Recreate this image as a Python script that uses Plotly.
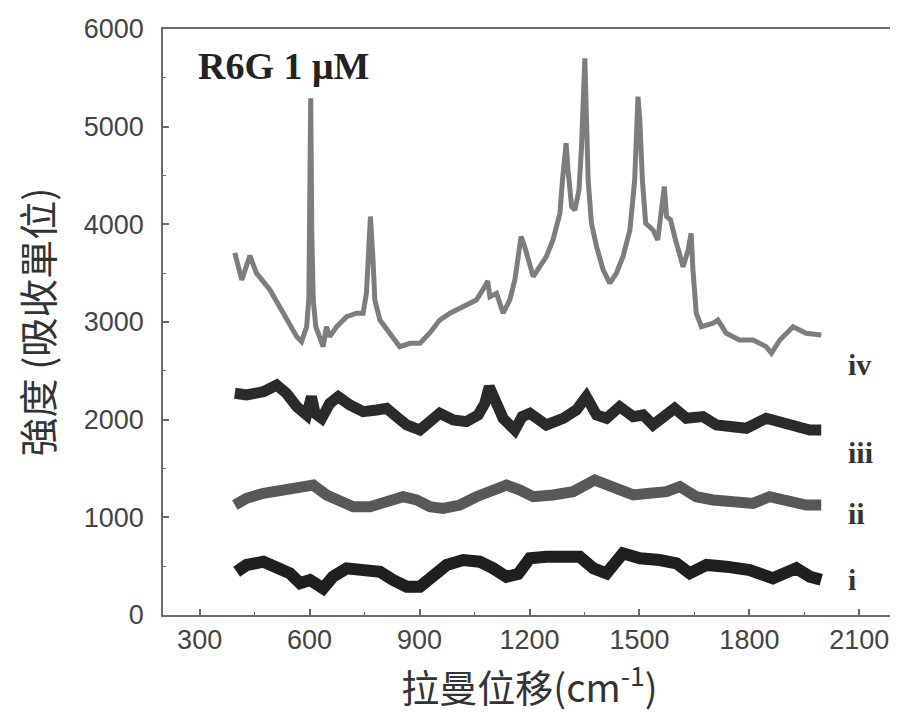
import plotly.graph_objects as go

# ---- data (Raman shift cm-1, intensity) ----
x_iv = [396, 415, 437, 455, 492, 519, 546, 565, 578, 592, 598, 603, 606, 610, 617, 623, 637, 646, 655, 674,
        701, 728, 746, 755, 760, 766, 773, 778, 792, 819, 846, 874, 901, 928, 955, 983, 1019, 1055, 1078,
        1086, 1092, 1110, 1128, 1146, 1160, 1177, 1187, 1210, 1228, 1246, 1264, 1283, 1290, 1300, 1305,
        1315, 1324, 1335, 1342, 1351, 1355, 1360, 1369, 1383, 1401, 1419, 1437, 1455, 1474, 1487, 1496,
        1501, 1508, 1517, 1537, 1550, 1560, 1568, 1574, 1585, 1596, 1619, 1633, 1641, 1646, 1655, 1669,
        1701, 1714, 1737, 1773, 1810, 1846, 1860, 1883, 1919, 1955, 1996]
y_iv = [3707, 3430, 3680, 3500, 3328, 3157, 2990, 2850, 2800, 2950, 3250, 5290, 3900, 3225, 2950, 2888, 2747,
        2952, 2850, 2952, 3055, 3090, 3090, 3294, 3635, 4080, 3635, 3225, 3020, 2888, 2747, 2782, 2782,
        2888, 3020, 3090, 3157, 3225, 3362, 3420, 3260, 3294, 3090, 3225, 3430, 3874, 3771, 3464, 3566,
        3669, 3840, 4113, 4454, 4830, 4557, 4181, 4147, 4352, 4795, 5700, 5137, 4454, 4011, 3771, 3533,
        3397, 3499, 3669, 3942, 4454, 5308, 5069, 4454, 4011, 3942, 3840, 4147, 4386, 4079, 4045, 3874,
        3566, 3737, 3908, 3533, 3090, 2952, 2987, 3020, 2884, 2816, 2816, 2747, 2680, 2816, 2952, 2884, 2867]

x_iii = [396, 428, 474, 510, 537, 565, 592, 605, 615, 633, 655, 678, 710, 746, 783, 810, 837, 865, 901, 928,
         955, 992, 1028, 1060, 1078, 1090, 1105, 1128, 1160, 1180, 1201, 1246, 1292, 1328, 1355, 1383, 1410,
         1446, 1483, 1510, 1537, 1574, 1596, 1628, 1673, 1710, 1755, 1792, 1846, 1892, 1928, 1965, 1996]
y_iii = [2270, 2253, 2287, 2355, 2270, 2133, 2048, 2235, 2065, 2014, 2167, 2235, 2150, 2082, 2099, 2116, 2031,
         1946, 1894, 1997, 2065, 1997, 1980, 2048, 2167, 2338, 2202, 2014, 1894, 2031, 2065, 1946, 2014,
         2099, 2235, 2048, 2014, 2133, 2031, 2048, 1946, 2065, 2116, 2014, 2031, 1946, 1912, 1912, 2014,
         1963, 1946, 1894, 1894]

x_ii = [396, 428, 474, 519, 565, 610, 646, 683, 719, 765, 810, 855, 892, 928, 964, 1010, 1055, 1092, 1137,
        1174, 1210, 1264, 1319, 1378, 1428, 1483, 1528, 1574, 1610, 1655, 1701, 1755, 1810, 1855, 1910,
        1955, 1996]
y_ii = [1126, 1195, 1246, 1280, 1314, 1331, 1229, 1160, 1109, 1109, 1160, 1211, 1178, 1109, 1092, 1126, 1211,
        1263, 1331, 1280, 1211, 1229, 1263, 1382, 1297, 1229, 1246, 1263, 1314, 1211, 1178, 1160, 1143,
        1211, 1160, 1126, 1126]

x_i = [401, 428, 474, 519, 546, 574, 601, 637, 664, 701, 746, 792, 828, 865, 901, 937, 974, 1019, 1064, 1101,
       1137, 1169, 1201, 1246, 1301, 1337, 1374, 1410, 1455, 1501, 1555, 1601, 1637, 1683, 1737, 1801, 1864,
       1928, 1965, 1996]
y_i = [443, 512, 546, 478, 427, 325, 358, 273, 392, 478, 461, 443, 358, 290, 290, 392, 512, 563, 546, 478,
       392, 420, 581, 597, 614, 597, 478, 427, 632, 581, 563, 529, 427, 512, 495, 461, 376, 478, 392, 360]

series_names = ["iv", "iii", "ii", "i"]
label_y = [2570, 1660, 1035, 360]
x_ticks = [300, 600, 900, 1200, 1500, 1800, 2100]
y_ticks = [0, 1000, 2000, 3000, 4000, 5000, 6000]

colors = ["#7d7d7d", "#2a2a2a", "#585858", "#1f1f1f"]
widths = [5, 11, 11, 12]

fig = go.Figure()
for xs, ys, c, w, n in zip([x_iv, x_iii, x_ii, x_i], [y_iv, y_iii, y_ii, y_i], colors, widths, series_names):
    fig.add_trace(go.Scatter(x=xs, y=ys, mode="lines", name=n,
                             line=dict(color=c, width=w, shape="linear"), showlegend=False))

for n, ly in zip(series_names, label_y):
    fig.add_annotation(x=2063, y=ly, text="<b>%s</b>" % n, showarrow=False, xanchor="left", yanchor="middle",
                       font=dict(family="Liberation Serif", size=30, color="#333333"))

fig.add_annotation(x=290, y=5620, text="<b>R6G 1 μM</b>", showarrow=False, xanchor="left", yanchor="middle",
                   font=dict(family="Liberation Serif", size=38, color="#222222"))

axis_common = dict(showline=True, linecolor="#6a6a6a", linewidth=1.5, mirror=True, ticks="inside",
                   tickcolor="#6a6a6a", ticklen=6, tickwidth=1.5, showgrid=False, zeroline=False,
                   automargin=False,
                   tickfont=dict(family="Liberation Sans", size=27, color="#444444"),
                   minor=dict(ticks="inside", ticklen=3, tickcolor="#6a6a6a", tickwidth=1.2))

fig.update_xaxes(range=[200, 2200], tickvals=x_ticks, minor_dtick=150, minor_tick0=150,
                 ticklabelstandoff=0,
                 title=dict(text="拉曼位移(cm<sup>-1</sup>)", standoff=2,
                            font=dict(family="Noto Sans CJK TC", size=38, color="#333333")),
                 **axis_common)
fig.update_yaxes(range=[0, 6000], tickvals=y_ticks, minor_dtick=500, minor_tick0=0,
                 ticklabelstandoff=12,
                 title=dict(text="強度 (吸收單位)", standoff=22,
                            font=dict(family="Noto Sans CJK TC", size=39, color="#333333")),
                 **axis_common)

# the page body adds an 8 px offset, so the figure is sized to fit the window
fig.update_layout(width=890, height=705, margin=dict(l=155, r=2, t=21, b=98),
                  paper_bgcolor="white", plot_bgcolor="white")

fig.write_html("out.html")
